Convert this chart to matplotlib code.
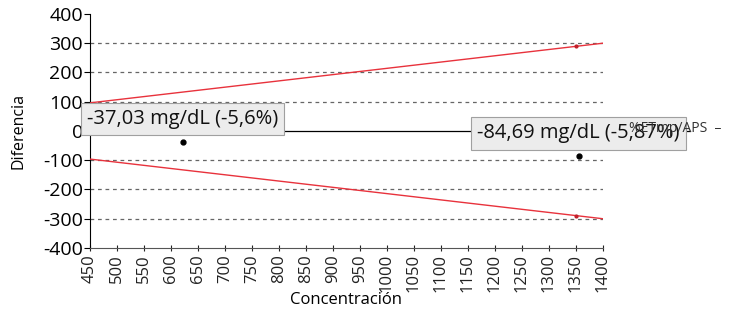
import numpy as np
import matplotlib
matplotlib.use("Agg")
import matplotlib.pyplot as plt

plt.rcParams['font.family'] = ['Open Sans', 'DejaVu Sans']

# datos
conc_lim = [450, 1400]
lim_sup = [96, 300]
lim_inf = [-96, -300]
marca_x = [1350]
marca_sup = [289]
marca_inf = [-289]
pts_x = [622, 1355]
pts_y = [-37.03, -84.69]
etiquetas = ["-37,03 mg/dL (-5,6%)", "-84,69 mg/dL (-5,87%)"]
caja_y = [41, -8.5]
xticks = list(range(450, 1401, 50))
yticks = list(range(-400, 401, 100))

fig = plt.figure(figsize=(7.3, 3.1), dpi=100)
ax = fig.add_axes([0.123, 0.2, 0.703, 0.755])

# rejilla discontinua
for v in [-300, -200, -100, 100, 200, 300]:
    ax.axhline(v, color='#666666', ls=(0, (3, 3)), lw=0.9, zorder=1)
ax.axhline(0, color='black', lw=0.9, zorder=2, xmax=1.17, clip_on=False)

ax.plot(conc_lim, lim_sup, color='#e8323c', lw=1.0, zorder=3)
ax.plot(conc_lim, lim_inf, color='#e8323c', lw=1.0, zorder=3)
ax.plot(marca_x, marca_sup, 'o', color='#c0202a', ms=2, zorder=3)
ax.plot(marca_x, marca_inf, 'o', color='#c0202a', ms=2, zorder=3)
ax.plot(pts_x, pts_y, 'o', color='black', ms=3.5, zorder=4)

# etiquetas tipo globo
for px, cy, t in zip(pts_x, caja_y, etiquetas):
    ax.text(px, cy, t, fontsize=14.5, ha='center', va='center', zorder=6,
            color='#111111',
            bbox=dict(boxstyle='square,pad=0.3', facecolor='#ececec',
                      edgecolor='#a0a0a0', lw=0.8), clip_on=False)

ax.text(1.05, 0.51, "%ETmp/APS  \u2013", transform=ax.transAxes,
        fontsize=10, va='center', ha='left', color='#333333', clip_on=False,
        zorder=7)

ax.set_xlim(450, 1400)
ax.set_ylim(-400, 400)
ax.set_xticks(xticks)
ax.set_xticklabels([str(v) for v in xticks], rotation=90, fontsize=12)
ax.set_yticks(yticks)
ax.set_yticklabels([str(v) for v in yticks], fontsize=14)
ax.tick_params(axis='x', direction='inout', length=5, pad=2, colors='#222222')
ax.tick_params(axis='y', direction='out', length=4, pad=1)

for s in ['top', 'right']:
    ax.spines[s].set_visible(False)
ax.spines['bottom'].set_color('#555555')
ax.spines['left'].set_color('black')

ax.set_xlabel("Concentración", fontsize=12, labelpad=0)
ax.set_ylabel("Diferencia", fontsize=11.5, labelpad=12)

fig.savefig("out.png", dpi=100)
